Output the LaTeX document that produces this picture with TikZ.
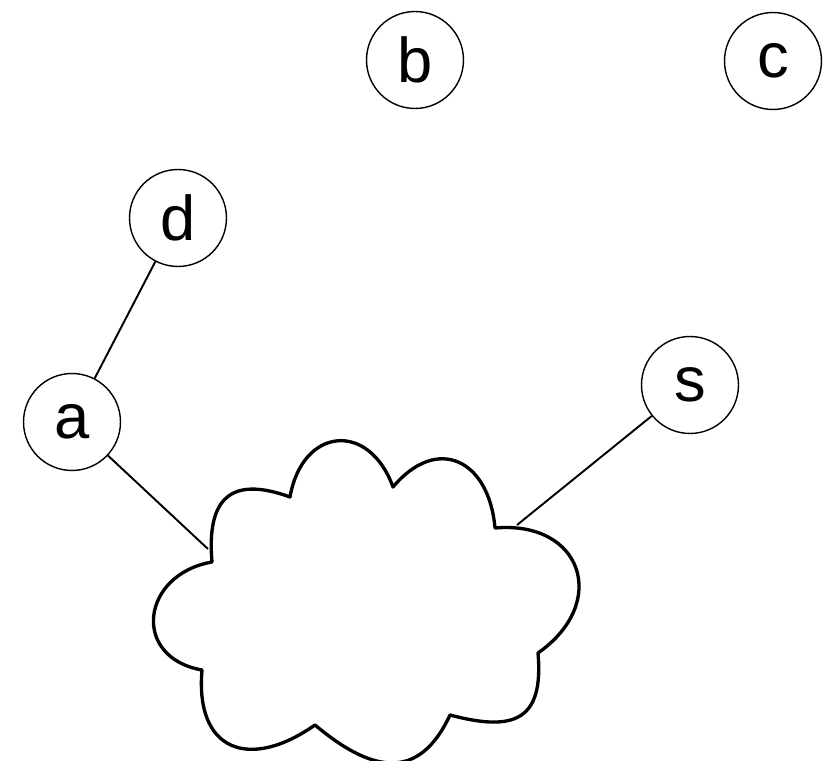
\documentclass[tikz,border=0pt]{standalone}
\usepackage{fontspec}
\setmainfont{Liberation Sans}
\begin{document}
\begin{tikzpicture}[x=0.02cm, y=0.02cm,
  vertex/.style={circle, draw, line width=0.8pt, minimum size=1.94cm, inner sep=0pt,
    font=\fontsize{36}{42}\selectfont},
  link/.style={line width=1.1pt},
  cloudline/.style={line width=1.9pt, line join=round}]
\useasboundingbox (0,0) rectangle (840,761);

% hosts
\node[vertex] (b) at (415,701) {b};
\node[vertex] (c) at (773,700) {c};
\node[vertex] (d) at (178,543) {d};
\node[vertex] (a) at (72,339) {a};
\node[vertex] (s) at (690,376) {s};

% network cloud, lobe by lobe between the dimples
\coordinate (k1) at (212,199);
\coordinate (k2) at (290,264);
\coordinate (k3) at (393,274);
\coordinate (k4) at (495,233);
\coordinate (k5) at (538,108);
\coordinate (k6) at (450,46);
\coordinate (k7) at (315,36);
\coordinate (k8) at (202,91);
\draw[cloudline]
  (k1) to[out=95, in=160, looseness=1.6] (k2)
       to[out=80, in=110, looseness=1.75] (k3)
       to[out=50, in=95, looseness=1.6] (k4)
       to[out=5, in=35, looseness=1.7] (k5)
       to[out=-85, in=-15, looseness=1.6] (k6)
       to[out=-115, in=-40, looseness=1.4] (k7)
       to[out=-145, in=-95, looseness=1.65] (k8)
       to[out=170, in=-170, looseness=1.7] (k1) -- cycle;

% attachment points on the cloud
\coordinate (ca) at (208,212);
\coordinate (cs) at (517,236);

% links
\draw[link] (d) -- (a);
\draw[link] (a) -- (ca);
\draw[link] (s) -- (cs);
\end{tikzpicture}
\end{document}
